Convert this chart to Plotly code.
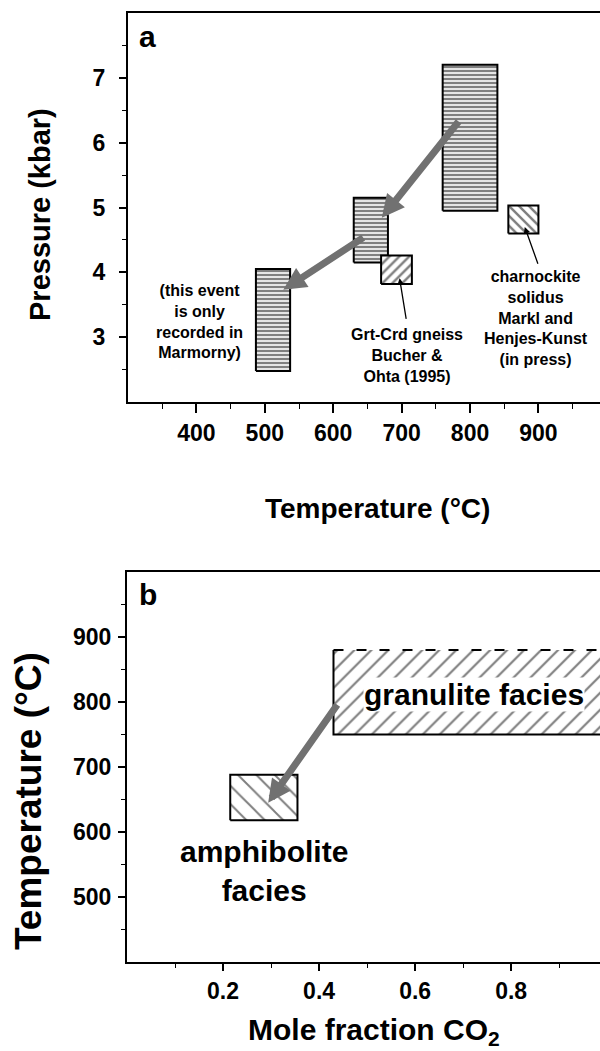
import plotly.graph_objects as go

# ---------------- data: panel a (P-T) ----------------
box_T_min = [760, 630, 487, 670, 856]
box_T_max = [840, 680, 537, 715, 900]
box_P_min = [4.95, 4.15, 2.48, 3.82, 4.60]
box_P_max = [7.20, 5.15, 4.05, 4.26, 5.03]

path_T_from = [785, 646]
path_P_from = [6.35, 4.55]
path_T_to = [671, 527]
path_P_to = [4.84, 3.73]

ptr_T_from = [707, 900]
ptr_P_from = [3.26, 4.11]
ptr_T_to = [697, 880]
ptr_P_to = [3.91, 4.70]

a_xticks = [400, 500, 600, 700, 800, 900]
a_xminor = [350, 450, 550, 650, 750, 850, 950]
a_yticks = [3, 4, 5, 6, 7]
a_yminor = [2.5, 3.5, 4.5, 5.5, 6.5, 7.5]

# ---------------- data: panel b (XCO2-T) ----------------
gran_X = [0.43, 1.0]
gran_T = [750, 880]
amph_X = [0.215, 0.355]
amph_T = [618, 688]
b_arrow_X = [0.44, 0.294]
b_arrow_T = [798, 645]

b_xticks = [0.2, 0.4, 0.6, 0.8]
b_xminor = [0.1, 0.3, 0.5, 0.7, 0.9]
b_yticks = [500, 600, 700, 800, 900]
b_yminor = [450, 550, 650, 750, 850, 950]

FONT = "Liberation Sans, Arial, Helvetica, sans-serif"
W, H = 600, 1051

fig = go.Figure()


def rect(x0, x1, y0, y1):
    return [x0, x1, x1, x0, x0], [y0, y0, y1, y1, y0]


patterns_a = [
    dict(shape='-', size=4, solidity=0.6),
    dict(shape='-', size=4, solidity=0.6),
    dict(shape='-', size=4, solidity=0.6),
    dict(shape='/', size=7, solidity=0.35),
    dict(shape='\\', size=7, solidity=0.35),
]
for i in range(len(box_T_min)):
    xs, ys = rect(box_T_min[i], box_T_max[i], box_P_min[i], box_P_max[i])
    p = patterns_a[i]
    fig.add_trace(go.Scatter(
        x=xs, y=ys, mode='lines', fill='toself', fillcolor='white',
        fillpattern=dict(shape=p['shape'], size=p['size'], solidity=p['solidity'],
                         fgcolor='black', bgcolor='white', fillmode='overlay'),
        line=dict(color='black', width=2), xaxis='x', yaxis='y', hoverinfo='skip'))

# panel b boxes
xs, ys = rect(gran_X[0], gran_X[1], gran_T[0], gran_T[1])
fig.add_trace(go.Scatter(
    x=xs, y=ys, mode='none', fill='toself', fillcolor='white',
    fillpattern=dict(shape='/', size=12, solidity=0.18, fgcolor='black', bgcolor='white'),
    xaxis='x2', yaxis='y2', hoverinfo='skip'))
fig.add_trace(go.Scatter(
    x=[gran_X[1], gran_X[0], gran_X[0]], y=[gran_T[0], gran_T[0], gran_T[1]],
    mode='lines', line=dict(color='black', width=2), xaxis='x2', yaxis='y2', hoverinfo='skip'))
fig.add_trace(go.Scatter(
    x=[gran_X[0], gran_X[1]], y=[gran_T[1], gran_T[1]],
    mode='lines', line=dict(color='black', width=2, dash='10px,13px'),
    xaxis='x2', yaxis='y2', hoverinfo='skip'))

xs, ys = rect(amph_X[0], amph_X[1], amph_T[0], amph_T[1])
fig.add_trace(go.Scatter(
    x=xs, y=ys, mode='lines', fill='toself', fillcolor='white',
    fillpattern=dict(shape='\\', size=13, solidity=0.15, fgcolor='black', bgcolor='white'),
    line=dict(color='black', width=2), xaxis='x2', yaxis='y2', hoverinfo='skip'))

ann = []
GRAY = '#717171'
for i in range(len(path_T_from)):
    ann.append(dict(x=path_T_to[i], y=path_P_to[i], ax=path_T_from[i], ay=path_P_from[i],
                    xref='x', yref='y', axref='x', ayref='y', text='', showarrow=True,
                    arrowhead=2, arrowsize=0.65, arrowwidth=7, arrowcolor=GRAY, standoff=0))
for i in range(len(ptr_T_from)):
    ann.append(dict(x=ptr_T_to[i], y=ptr_P_to[i], ax=ptr_T_from[i], ay=ptr_P_from[i],
                    xref='x', yref='y', axref='x', ayref='y', text='', showarrow=True,
                    arrowhead=2, arrowsize=1, arrowwidth=1.3, arrowcolor='black', standoff=0))
ann.append(dict(x=b_arrow_X[1], y=b_arrow_T[1], ax=b_arrow_X[0], ay=b_arrow_T[0],
                xref='x2', yref='y2', axref='x2', ayref='y2', text='', showarrow=True,
                arrowhead=2, arrowsize=0.65, arrowwidth=7, arrowcolor=GRAY, standoff=0))

def txt(x, y, t, size, xref='x', yref='y', angle=0, bg=None):
    d = dict(x=x, y=y, xref=xref, yref=yref, text=t, showarrow=False,
             font=dict(family=FONT, size=size, color='black', weight='bold'),
             xanchor='center', yanchor='middle', textangle=angle, align='center')
    if bg:
        d.update(bgcolor=bg, borderpad=0)
    return d

ann += [
    txt(328.5, 7.63, 'a', 30),
    txt(405, 3.24, '(this event<br>is only<br>recorded in<br>Marmorny)', 16),
    txt(708, 2.72, 'Grt-Crd gneiss<br>Bucher &amp;<br>Ohta (1995)', 16),
    txt(897, 3.29, 'charnockite<br>solidus<br>Markl and<br>Henjes-Kunst<br>(in press)', 16),
    txt(0.044, 966, 'b', 30, 'x2', 'y2'),
    txt(0.722, 812, 'granulite facies', 30, 'x2', 'y2', bg='white'),
    txt(0.285, 540, 'amphibolite<br>facies', 30, 'x2', 'y2'),
    txt(377 / W, 1 - 508 / H, 'Temperature (°C)', 28, 'paper', 'paper'),
    txt(40 / W, 1 - 215 / H, 'Pressure (kbar)', 29, 'paper', 'paper', angle=-90),
    txt(28 / W, 1 - 801 / H, 'Temperature (°C)', 37, 'paper', 'paper', angle=-90),
    txt(374 / W, 1 - 1031 / H, 'Mole fraction CO<sub>2</sub>', 30, 'paper', 'paper'),
]

tickfont = dict(family=FONT, size=23, color='black', weight='bold')
common = dict(showline=True, linecolor='black', linewidth=2, showgrid=False, zeroline=False,
              ticks='outside', tickcolor='black', tickwidth=1.5, tickfont=tickfont)

fig.update_layout(
    width=W, height=H, margin=dict(l=0, r=0, t=0, b=0),
    plot_bgcolor='white', paper_bgcolor='white', showlegend=False,
    annotations=ann,
    xaxis=dict(domain=[128 / W, 1], range=[300, 990], anchor='y', mirror=True,
               tickvals=a_xticks, ticklen=9,
               minor=dict(tickvals=a_xminor, ticklen=5, ticks='outside', tickcolor='black', tickwidth=1),
               **common),
    yaxis=dict(domain=[1 - 402 / H, 1 - 13 / H], range=[2, 8], anchor='x',
               tickvals=a_yticks, ticklen=7, ticklabelstandoff=9,
               minor=dict(tickvals=a_yminor, ticklen=4, ticks='outside', tickcolor='black', tickwidth=1),
               **common),
    xaxis2=dict(domain=[127 / W, 1], range=[0, 0.985], anchor='y2', mirror=True,
                tickvals=b_xticks, ticklen=7,
                minor=dict(tickvals=b_xminor, ticklen=4, ticks='outside', tickcolor='black', tickwidth=1),
                **common),
    yaxis2=dict(domain=[1 - 962 / H, 1 - 572 / H], range=[400, 1000], anchor='x2',
                tickvals=b_yticks, ticklen=7, ticklabelstandoff=2,
                minor=dict(tickvals=b_yminor, ticklen=4, ticks='outside', tickcolor='black', tickwidth=1),
                **common),
)

fig.write_html("out.html")
